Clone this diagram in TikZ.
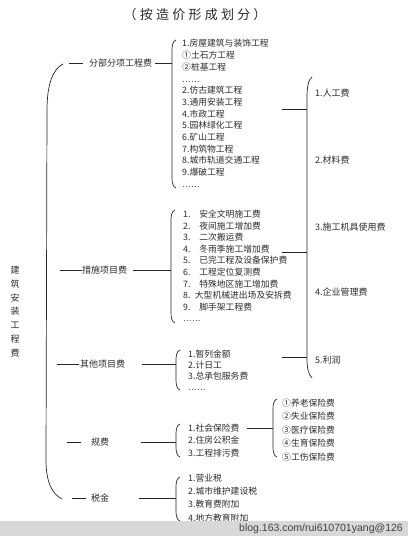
\documentclass[tikz,border=0pt]{standalone}
\usepackage{fontspec}
\setmainfont{Noto Sans CJK SC}
\newfontfamily\titlefont[LetterSpace=25]{Noto Sans CJK SC}
\newfontfamily\latinfont{Liberation Sans}

\definecolor{txtgray}{HTML}{2B2B2B}
\definecolor{bandgray}{HTML}{D8D8D8}

% left bracket: x, top, bottom
\newcommand{\kuohao}[3]{%
  \draw[brak] ({#1+4},#2) .. controls ({#1+1},{#2+1}) and (#1,{#2+5}) .. (#1,{#2+10})
    -- (#1,{#3-10}) .. controls (#1,{#3-5}) and ({#1+1},{#3-1}) .. ({#1+4},#3);}
\newcommand{\dd}{{\latinfont ……}}

\begin{document}
\begin{tikzpicture}[x=1pt,y=-1pt,
    fee/.style={inner sep=0pt,text=txtgray,font=\fontsize{9}{10}\selectfont},
    items/.style={anchor=west,inner sep=0pt,align=left,text=txtgray,font=\fontsize{8.8}{#1}\selectfont},
    brak/.style={draw=black!85,line width=0.7pt},
    conn/.style={draw=black!85,line width=0.7pt}]

    \useasboundingbox (0,0) rectangle (408,536);

    \node[text=txtgray,inner sep=0pt,font=\titlefont\fontsize{13}{14}\selectfont] (title) at (195,15) {（按造价形成划分）};
    \node[fee,align=center,font=\fontsize{9}{13.8}\selectfont] (total) at (15,311.5) {建\\筑\\安\\装\\工\\程\\费};

    % big bracket
    \draw[brak] (63,64) .. controls (53,69) and (47,84) .. (47,110) -- (46,460) .. controls (46,482) and (52,494) .. (62,499);

    % 分部分项工程费
    \node[fee] (fbfx) at (120.5,63) {分部分项工程费};
    \coordinate (fbfxA) at (69,63);
    \coordinate (fbfxB) at (172,63);
    \draw[conn,shorten >=6pt] (fbfxA) -- (fbfx.west);
    \draw[conn,shorten <=3pt] (fbfx.east) -- (fbfxB);
    \kuohao{172}{40}{188}
    \node[items=11.7] (fbfxList) at (182,113.4) {1.房屋建筑与装饰工程\\①土石方工程\\②桩基工程\\\dd\\2.仿古建筑工程\\3.通用安装工程\\4.市政工程\\5.园林绿化工程\\6.矿山工程\\7.构筑物工程\\8.城市轨道交通工程\\9.爆破工程\\\dd};

    % 措施项目费
    \node[fee] (csxm) at (104.5,270) {措施项目费};
    \coordinate (csxmA) at (60,270);
    \coordinate (csxmB) at (171,270);
    \draw[conn] (csxmA) -- (csxm.west);
    \draw[conn,shorten <=6pt] (csxm.east) -- (csxmB);
    \kuohao{171}{210}{323}
    \node[items=11.55] (csxmList) at (183,266) {1.\quad 安全文明施工费\\2.\quad 夜间施工增加费\\3.\quad 二次搬运费\\4.\quad 冬雨季施工增加费\\5.\quad 已完工程及设备保护费\\6.\quad 工程定位复测费\\7.\quad 特殊地区施工增加费\\8.\enspace 大型机械进出场及安拆费\\9.\quad 脚手架工程费\\\dd};

    % 其他项目费
    \node[fee] (qtxm) at (102.5,364) {其他项目费};
    \coordinate (qtxmA) at (57,364);
    \coordinate (qtxmB) at (176,364);
    \draw[conn,shorten >=1pt] (qtxmA) -- (qtxm.west);
    \draw[conn,shorten <=17pt] (qtxm.east) -- (qtxmB);
    \kuohao{176}{350}{390}
    \node[items=11] (qtxmList) at (188,370.5) {1.暂列金额\\2.计日工\\3.总承包服务费\\\dd};

    % 规费
    \node[fee] (gf) at (100,442) {规费};
    \coordinate (gfA) at (67,442);
    \coordinate (gfB) at (176,442);
    \draw[conn,shorten >=10pt] (gfA) -- (gf.west);
    \draw[conn,shorten <=32pt] (gf.east) -- (gfB);
    \kuohao{176}{424}{457}
    \node[items=12.5] (gfList) at (188,440.5) {1.社会保险费\\2.住房公积金\\3.工程排污费};
    \coordinate (sbA) at (247,428);
    \coordinate (sbB) at (273,428);
    \draw[conn] (sbA) -- (sbB);
    \kuohao{273}{399}{457}
    \node[items=13.5] (sbList) at (282,430) {①养老保险费\\②失业保险费\\③医疗保险费\\④生育保险费\\⑤工伤保险费};

    % 税金
    \node[fee] (sj) at (100,498) {税金};
    \coordinate (sjA) at (72,498);
    \coordinate (sjB) at (176,498);
    \draw[conn,shorten >=5pt] (sjA) -- (sj.west);
    \draw[conn,shorten <=30pt] (sj.east) -- (sjB);
    \kuohao{176}{477}{521}
    \node[items=13.3] (sjList) at (188,498) {1.营业税\\2.城市维护建设税\\3.教育费附加\\4.地方教育附加};

    % right bracket
    \draw[brak] (312,77) .. controls (308,80) and (307,88) .. (307,97) -- (307,358) .. controls (307,367) and (308,374) .. (312,378);
    \coordinate (fbfxC) at (282,109);
    \coordinate (rb1) at (307,109);
    \coordinate (csxmC) at (282,252);
    \coordinate (rb2) at (307,252);
    \coordinate (qtxmC) at (282,357);
    \coordinate (rb3) at (307,357);
    \draw[conn] (fbfxC) -- (rb1);
    \draw[conn] (csxmC) -- (rb2);
    \draw[conn] (qtxmC) -- (rb3);
    \foreach \n/\t/\y in {1/1.人工费/93, 2/2.材料费/160, 3/3.施工机具使用费/227, 4/4.企业管理费/292, 5/5.利润/360}
        \node[fee,anchor=west] (fy\n) at (315,\y) {\t};

    % watermark band
    \fill[bandgray] (0,521) rectangle (408,536);
    \node[anchor=east,inner sep=0pt,text=black!75,font=\latinfont\fontsize{10.5}{12}\selectfont] (mark) at (403,529) {blog.163.com/rui610701yang@126};
\end{tikzpicture}
\end{document}
